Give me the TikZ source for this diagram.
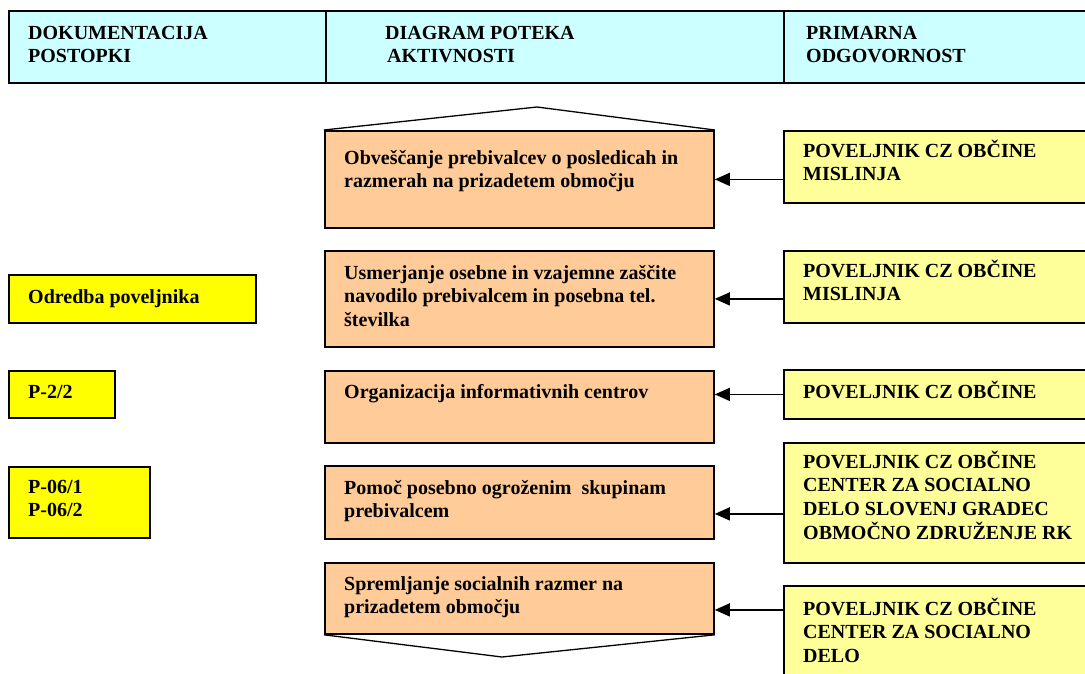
\documentclass[tikz,border=0pt]{standalone}
\usepackage{fontspec}
\setmainfont{Liberation Serif}
\usetikzlibrary{arrows.meta}
\definecolor{hdr}{HTML}{CCFFFF}
\definecolor{org}{HTML}{FFCC99}
\definecolor{ylw}{HTML}{FFFF99}
\definecolor{ylwb}{HTML}{FFFF00}
\newcommand{\fl}{\rule{0pt}{18pt}}
\begin{document}
\begin{tikzpicture}[x=1pt,y=-1pt,
 box/.style={draw=black, line width=1.8pt, anchor=north west, inner sep=0pt, rectangle},
 hbox/.style={box, fill=hdr},
 obox/.style={box, fill=org},
 rbox/.style={box, fill=ylw},
 lbox/.style={box, fill=ylwb},
 txt/.style={anchor=north west, inner sep=0pt, align=left, font=\fontsize{20}{23.7}\selectfont\bfseries},
 arr/.style={line width=1.4pt, -{Triangle[length=15pt,width=13pt]}},
 tri/.style={line width=1.3pt}]
\useasboundingbox (0,0) rectangle (1085,673);
\fill[white] (0,0) rectangle (1085,673);
% header
\node[hbox, minimum width=317pt, minimum height=72pt] (h1) at (8,10) {};
\node[hbox, minimum width=458pt, minimum height=72pt] (h2) at (325,10) {};
\node[hbox, minimum width=320pt, minimum height=72pt] (h3) at (783,10) {};
\node[txt] (h1t) at (28,21) {\fl DOKUMENTACIJA\\POSTOPKI};
\node[txt] (h2t) at (385,21) {\fl DIAGRAM POTEKA\\\hspace{2pt}AKTIVNOSTI};
\node[txt] (h3t) at (806,21) {\fl PRIMARNA\\ODGOVORNOST};
% orange activity boxes
\node[obox, minimum width=389pt, minimum height=97pt] (o1) at (324,130) {};
\node[obox, minimum width=389pt, minimum height=96pt] (o2) at (324,250) {};
\node[obox, minimum width=389pt, minimum height=72pt] (o3) at (324,370) {};
\node[obox, minimum width=389pt, minimum height=73pt] (o4) at (324,465) {};
\node[obox, minimum width=389pt, minimum height=71pt] (o5) at (324,562) {};
\node[txt] (o1t) at (344,146) {\fl Obveščanje prebivalcev o posledicah in\\razmerah na prizadetem območju};
\node[txt] (o2t) at (344,261) {\fl Usmerjanje osebne in vzajemne zaščite\\navodilo prebivalcem in posebna tel.\\številka};
\node[txt] (o3t) at (344,380) {\fl Organizacija informativnih centrov};
\node[txt] (o4t) at (344,476) {\fl Pomoč posebno ogroženim\ \ skupinam\\prebivalcem};
\node[txt] (o5t) at (344,572) {\fl Spremljanje socialnih razmer na\\prizadetem območju};
% top and bottom triangles
\coordinate (t1) at (537,107);
\coordinate (t2) at (502,657);
\draw[tri] (o1.north west) -- (t1) -- (o1.north east);
\draw[tri] (o5.south west) -- (t2) -- (o5.south east);
% right responsibility boxes
\node[rbox, minimum width=320pt, minimum height=72pt] (r1) at (783,130) {};
\node[rbox, minimum width=320pt, minimum height=72pt] (r2) at (783,250) {};
\node[rbox, minimum width=320pt, minimum height=49pt] (r3) at (783,369) {};
\node[rbox, minimum width=320pt, minimum height=120pt] (r4) at (783,442) {};
\node[rbox, minimum width=320pt, minimum height=110pt] (r5) at (783,585) {};
\node[txt] (r1t) at (803,139) {\fl POVELJNIK CZ OBČINE\\MISLINJA};
\node[txt] (r2t) at (803,259) {\fl POVELJNIK CZ OBČINE\\MISLINJA};
\node[txt] (r3t) at (803,380) {\fl POVELJNIK CZ OBČINE};
\node[txt] (r4t) at (803,450) {\fl POVELJNIK CZ OBČINE\\CENTER ZA SOCIALNO\\DELO SLOVENJ GRADEC\\OBMOČNO ZDRUŽENJE RK};
\node[txt] (r5t) at (803,597) {\fl POVELJNIK CZ OBČINE\\CENTER ZA SOCIALNO\\DELO};
% left documentation boxes
\node[lbox, minimum width=247pt, minimum height=48pt] (l1) at (8,274) {};
\node[lbox, minimum width=106pt, minimum height=47pt] (l2) at (8,370) {};
\node[lbox, minimum width=141pt, minimum height=71pt] (l3) at (8,466) {};
\node[txt] (l1t) at (28,285) {\fl Odredba poveljnika};
\node[txt] (l2t) at (28,380) {\fl P-2/2};
\node[txt] (l3t) at (28,475) {\fl P-06/1\\P-06/2};
% arrows
\draw[arr] (r1.west |- o1.east) -- (o1.east);
\draw[arr] (r2.west |- o2.east) -- (o2.east);
\draw[arr] (r3.west) -- (r3.west -| o3.east);
\coordinate (a4) at ([yshift=-11pt]r4.west);
\draw[arr] (a4) -- (a4 -| o4.east);
\coordinate (a5) at ([yshift=-11.5pt]o5.east);
\draw[arr] (a5 -| r5.west) -- (a5);
\end{tikzpicture}
\end{document}
